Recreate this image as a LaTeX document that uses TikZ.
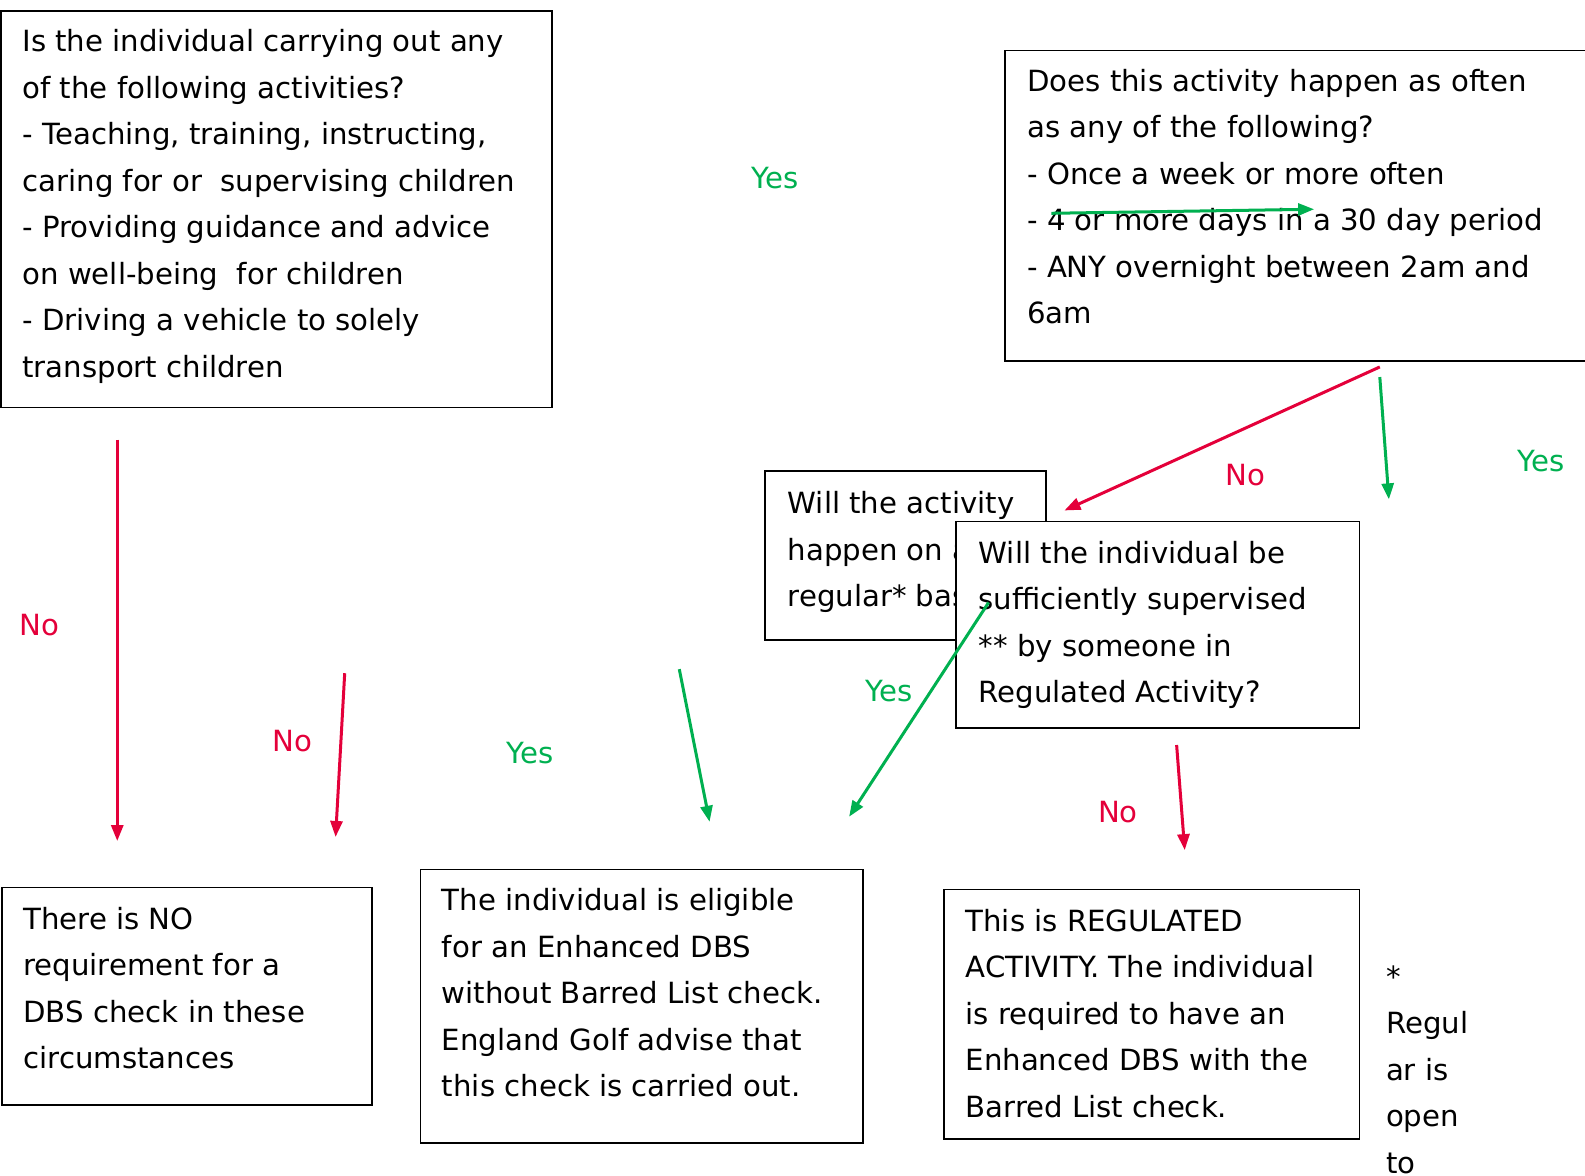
\documentclass[tikz,border=0pt]{standalone}
\usepackage{fontspec}
\setmainfont{DejaVu Sans}
\usetikzlibrary{arrows.meta}
\definecolor{nored}{RGB}{228,0,58}
\definecolor{yesgreen}{RGB}{0,176,80}
\tikzset{
    qbox/.style={draw=black, line width=1.6pt, fill=white},
    qtext/.style={anchor=north west, align=left, inner sep=0pt, font=\fontsize{29.2}{46.5}\selectfont},
    noarrow/.style={draw=nored, line width=3pt, -{Triangle[length=16pt,width=12pt]}},
    yesarrow/.style={draw=yesgreen, line width=3pt, -{Triangle[length=16pt,width=12pt]}},
    nolabel/.style={text=nored, font=\fontsize{29.2}{34}\selectfont},
    yeslabel/.style={text=yesgreen, font=\fontsize{29.2}{34}\selectfont}
}

\begin{document}
\begin{tikzpicture}[x=1.0108pt, y=-1.0108pt]
    \useasboundingbox (0,0) rectangle (1568,1163);

    % question boxes
    \draw[qbox] (1,11) rectangle (546,403);
    \node[qtext] (activities) at (22,29)
        {Is the individual carrying out any\\of the following activities?\\- Teaching, training, instructing,\\caring for or\ \ supervising children\\- Providing guidance and advice\\on well-being\ \ for children\\- Driving a vehicle to solely\\transport children};
    \draw[qbox] (994,50) rectangle (1600,357);
    \node[qtext] (often) at (1016,68)
        {Does this activity happen as often\\as any of the following?\\- Once a week or more often\\- 4 or more days in a 30 day period\\- ANY overnight between 2am and\\6am};
    \draw[qbox] (757,466) rectangle (1035,633);
    \node[qtext] (regular) at (779,486)
        {Will the activity\\happen on a\\regular* basis?};
    \draw[qbox] (946,516) rectangle (1345,720);
    \node[qtext] (supervised) at (968,535)
        {Will the individual be\\sufficiently supervised\\{}** by someone in\\Regulated Activity?};

    % outcome boxes
    \draw[qbox] (2,878) rectangle (368,1093);
    \node[qtext] (nocheck) at (23,897)
        {There is NO\\requirement for a\\DBS check in these\\circumstances};
    \draw[qbox] (416,860) rectangle (854,1131);
    \node[qtext] (enhanced) at (437,879)
        {The individual is eligible\\for an Enhanced DBS\\without Barred List check.\\England Golf advise that\\this check is carried out.};
    \draw[qbox] (934,880) rectangle (1345,1127);
    \node[qtext] (barred) at (955,899)
        {This is REGULATED\\ACTIVITY. The individual\\is required to have an\\Enhanced DBS with the\\Barred List check.};
    \node[qtext] (note) at (1371,955)
        {*\\Regul\\ar is\\open\\to};

    % arrow ends
    \coordinate (a1s) at (116,435);  \coordinate (a1e) at (116,832);
    \coordinate (a2s) at (341,666);  \coordinate (a2e) at (332,828);
    \coordinate (a3s) at (672,662);  \coordinate (a3e) at (702,813);
    \coordinate (a4s) at (978,596);  \coordinate (a4e) at (840,808);
    \coordinate (a5s) at (1365,363); \coordinate (a5e) at (1053,505);
    \coordinate (a6s) at (1365,373); \coordinate (a6e) at (1374,494);
    \coordinate (a7s) at (1040,211); \coordinate (a7e) at (1300,207);
    \coordinate (a8s) at (1164,737); \coordinate (a8e) at (1172,841);

    \draw[noarrow] (a1s) -- (a1e);
    \draw[noarrow] (a2s) -- (a2e);
    \draw[yesarrow] (a3s) -- (a3e);
    \draw[yesarrow] (a4s) -- (a4e);
    \draw[noarrow] (a5s) -- (a5e);
    \draw[yesarrow] (a6s) -- (a6e);
    \draw[yesarrow] (a7s) -- (a7e);
    \draw[noarrow] (a8s) -- (a8e);

    \node[nolabel] (no1) at (39,618) {No};
    \node[nolabel] (no2) at (289,733) {No};
    \node[yeslabel] (yes1) at (524,745) {Yes};
    \node[yeslabel] (yes2) at (880,684) {Yes};
    \node[nolabel] (no3) at (1232,470) {No};
    \node[yeslabel] (yes3) at (1525,456) {Yes};
    \node[yeslabel] (yes4) at (767,176) {Yes};
    \node[nolabel] (no4) at (1106,803) {No};
\end{tikzpicture}
\end{document}
